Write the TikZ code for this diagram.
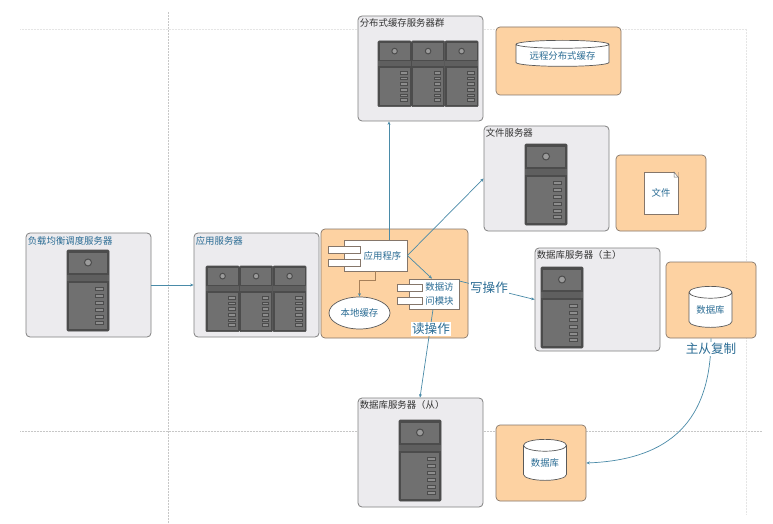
\documentclass[tikz,border=0pt]{standalone}
\usepackage{fontspec}
\setmainfont{Noto Sans CJK SC}
\usetikzlibrary{positioning,shapes.geometric,arrows.meta}
\definecolor{flowblue}{HTML}{4A8BA8}
\definecolor{textblue}{HTML}{2A6C94}
\definecolor{boxgray}{HTML}{ECEBEE}
\definecolor{boxorange}{HTML}{FDD2A2}
\definecolor{boxedge}{HTML}{85766A}
\definecolor{towerdark}{HTML}{4C4C4C}
\definecolor{towermid}{HTML}{707070}
\tikzset{
    guide/.style={densely dotted, draw=black!22, line width=0.5pt},
    srvbox/.style={draw=black!50, fill=boxgray, rounded corners=4pt, line width=0.8pt, inner sep=0pt},
    orgbox/.style={draw=boxedge, fill=boxorange, rounded corners=4pt, line width=0.7pt, inner sep=0pt},
    srvlabel/.style={font=\fontsize{9.4}{11}\selectfont, inner sep=0pt},
    inlabel/.style={font=\fontsize{9.4}{13.5}\selectfont, text=textblue, inner sep=0pt, align=center},
    oplabel/.style={font=\fontsize{12.6}{15}\selectfont, text=textblue, fill=white, inner sep=1pt},
    comp/.style={draw=boxedge, fill=white, line width=0.7pt, inner sep=0pt},
    dbcyl/.style={cylinder, shape border rotate=90, aspect=0.42, draw=black!65, fill=white, line width=0.7pt, inner sep=0pt, font=\fontsize{9.4}{11}\selectfont, text=textblue},
    flow/.style={draw=flowblue, line width=0.7pt, -{Stealth[length=3.5pt,width=3pt]}},
    pics/tower/.style={code={
        \draw[fill=towerdark, draw=towerdark, line width=0.6pt, rounded corners=1pt] (0,0) rectangle (42,81);
        \fill[towermid] (2,3) rectangle (40,23);
        \fill[towermid!85!black] (0,25) rectangle (42,31);
        \fill[towermid] (2,33) rectangle (40,79);
        \draw[black!70, fill=towermid!70, line width=1pt] (21,12.5) circle (3.5pt);
        \foreach \s in {39,46,53,60,67,73} {
            \draw[black!70, fill=towermid!80!white, line width=0.6pt] (28.5,\s-1.7) rectangle (36.5,\s+1.7);
        }
    }},
}
\begin{document}
\begin{tikzpicture}[x=1pt, y=-1pt]
    \useasboundingbox (0,0) rectangle (773,524);
    \fill[white] (0,0) rectangle (773,524);

    % Guide lines behind everything
    \draw[guide] (168,12) -- (168,524);
    \draw[guide] (20,431) -- (762,431);
    \draw[guide, draw=black!10] (20,29) -- (746,29);
    \draw[guide, draw=black!10] (746,29) -- (746,514);

    % Server boxes
    \foreach \x/\y/\h/\name in {
        88.5/285/104/lbsrv, 256.5/285/104/appsrv, 420.5/68.5/105/cachesrv,
        546.5/178.5/105/filesrv, 597.5/299.5/103/dbmsrv, 420.5/452.5/109/dbssrv} {
        \node[srvbox, minimum width=125pt, minimum height=\h pt] (\name) at (\x,\y) {};
    }

    % Orange boxes
    \node[orgbox, minimum width=147pt, minimum height=109pt] (appbox) at (394.5,283.5) {};
    \node[orgbox, minimum width=125pt, minimum height=68pt] (remotebox) at (558.5,61) {};
    \node[orgbox, minimum width=90pt, minimum height=76pt] (filebox) at (661,193) {};
    \node[orgbox, minimum width=90pt, minimum height=76pt] (dbmbox) at (711,300) {};
    \node[orgbox, minimum width=90pt, minimum height=76pt] (dbsbox) at (541,463) {};

    % Box titles
    \node[srvlabel, text=textblue, below right=4pt and 2pt of lbsrv.north west] (lbtitle) {负载均衡调度服务器};
    \node[srvlabel, text=textblue, below right=4pt and 2pt of appsrv.north west] (apptitle) {应用服务器};
    \node[srvlabel, text=black!80, below right=3pt and 2pt of cachesrv.north west] (cachetitle) {分布式缓存服务器群};
    \node[srvlabel, text=black!80, below right=3pt and 2pt of filesrv.north west] (filetitle) {文件服务器};
    \node[srvlabel, text=black!80, below right=3pt and 2pt of dbmsrv.north west] (dbmtitle) {数据库服务器（主）};
    \node[srvlabel, text=black!80, below right=3pt and 2pt of dbssrv.north west] (dbstitle) {数据库服务器（从）};

    % Single towers
    \foreach \x/\y in {67/250, 525/144, 541/267, 399/420} {
        \pic at (\x,\y) {tower};
    }
    % Racks of three
    \foreach \x in {206,239.5,273} {
        \pic[xscale=0.79, yscale=0.81] at (\x,266) {tower};
    }
    \foreach \x in {378,411.5,445} {
        \pic[xscale=0.79, yscale=0.81] at (\x,41) {tower};
    }

    % Components in the application box
    \node[comp, minimum width=63pt, minimum height=31pt] (appprog) at (375.5,255.5) {};
    \node[comp, minimum width=32pt, minimum height=7pt] (apptaba) at (344,249.5) {};
    \node[comp, minimum width=32pt, minimum height=7pt] (apptabb) at (344,262.5) {};
    \node[inlabel] (apptext) at (382.5,256) {应用程序};
    \node[comp, minimum width=50pt, minimum height=30pt] (dataacc) at (434,294) {};
    \node[comp, minimum width=25pt, minimum height=7pt] (datataba) at (409.5,288) {};
    \node[comp, minimum width=25pt, minimum height=7pt] (datatabb) at (409.5,301) {};
    \node[inlabel] (datatext) at (439.5,294) {数据访\\问模块};
    \node[ellipse, comp, draw=black!65, minimum width=61pt, minimum height=32pt, inlabel] (localcache) at (359.5,313) {本地缓存};

    % Storage
    \node[dbcyl, minimum width=93pt, minimum height=26pt, aspect=0.12] (remotedb) at (562.5,55.5) {\raisebox{-3pt}{远程分布式缓存}};
    \node[dbcyl, minimum width=43pt, minimum height=41pt] (masterdb) at (710.5,310) {\raisebox{-3pt}{数据库}};
    \node[dbcyl, minimum width=43pt, minimum height=41pt] (slavedb) at (545,463) {\raisebox{-3pt}{数据库}};
    \node[comp, minimum width=34pt, minimum height=42pt, inlabel] (docfile) at (661,193) {文件};
    \fill[boxorange] (674,171.5) -- (678.5,171.5) -- (678.5,177) -- cycle;
    \draw[black!55, fill=white, line width=0.5pt] (674,172) -- (678,177) -- (674,177) -- cycle;

    % Connections
    \draw[flow] (lbsrv.east) -- (appsrv.west);
    \draw[flow] ([xshift=13.5pt]appprog.north) -- ([xshift=-31.5pt]cachesrv.south);
    \draw[flow] (appprog.east) -- (filesrv.west);
    \draw[flow] (appprog.east) -- ([xshift=-2pt]dataacc.north);
    \draw[draw=brown!60!gray, line width=0.6pt, -{Stealth[length=3.5pt,width=3pt,color=flowblue]}]
        (appprog.south) -- ++(0,9) -| (localcache.north);
    \draw[flow] ([yshift=13pt]dataacc.east) -- (dbmsrv.west);
    \draw[flow] ([xshift=-1pt]dataacc.south) -- ([xshift=-0.5pt]dbssrv.north);
    \draw[flow] (dbmbox.south) .. controls (711,430) and (660,460) .. (dbsbox.east);

    % Operation labels
    \node[oplabel] (readop) at (431,329) {读操作};
    \node[oplabel] (writeop) at (489,288) {写操作};
    \node[oplabel] (replop) at (711,349) {主从复制};
\end{tikzpicture}
\end{document}
